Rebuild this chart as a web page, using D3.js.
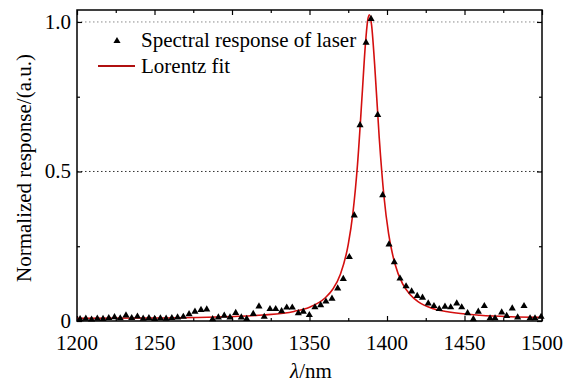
<!DOCTYPE html>
<html>
<head>
<meta charset="utf-8">
<script src="https://cdn.jsdelivr.net/npm/d3@7"></script>
<style>
  html, body { margin: 0; padding: 0; background: #ffffff; }
  text { fill: #000; }
</style>
</head>
<body>
<div id="chart"></div>
<script>
// measured spectral response (triangles)
var waveNm = [
  1202, 1205.7, 1209.4, 1213.1, 1216.8, 1220.5, 1224.2, 1227.9, 1231.6, 1235.3,
  1239, 1242.7, 1246.4, 1250.1, 1253.8, 1257.5, 1261.2, 1264.9, 1268.6, 1272.3,
  1276.1, 1280, 1283.7, 1287.5, 1291.2, 1295, 1298.7, 1302.4, 1306, 1309.5,
  1313.7, 1317.4, 1320.8, 1324.5, 1328.2, 1332, 1335.3, 1338.9, 1342.8, 1346,
  1349.9, 1353.5, 1357.2, 1360.6, 1364.5, 1368.2, 1371.8, 1375.7, 1378.9, 1382.6,
  1386.5, 1389.7, 1394, 1397.2, 1401.3, 1404.7, 1408.4, 1412.3, 1415.9, 1419.5,
  1422.9, 1426.6, 1430.3, 1433.7, 1437.4, 1441.1, 1445, 1448.2, 1452, 1455.7,
  1458.9, 1462.8, 1466.5, 1469.7, 1474, 1477.2, 1480.8, 1484.3, 1488.4, 1492.3,
  1495.5, 1499.4
];
var response = [
  0.006, 0.008, 0.005, 0.008, 0.007, 0.010, 0.013, 0.009, 0.019, 0.010,
  0.015, 0.008, 0.010, 0.007, 0.009, 0.008, 0.010, 0.012, 0.014, 0.023,
  0.031, 0.037, 0.039, 0.006, 0.012, 0.018, 0.012, 0.027, 0.012, 0.007,
  0.024, 0.049, 0.014, 0.040, 0.040, 0.033, 0.045, 0.045, 0.026, 0.031,
  0.020, 0.046, 0.053, 0.065, 0.075, 0.109, 0.141, 0.214, 0.353, 0.655,
  0.931, 1.010, 0.689, 0.421, 0.256, 0.197, 0.142, 0.116, 0.099, 0.084,
  0.078, 0.059, 0.050, 0.040, 0.048, 0.046, 0.059, 0.046, 0.026, 0.006,
  0.031, 0.050, 0.009, 0.009, 0.029, 0.017, 0.042, 0.012, 0.050, 0.009,
  0.009, 0.014
];

// Lorentz fit curve
var fitNm = [
  1200, 1250, 1300, 1320, 1340, 1350, 1360, 1365, 1370, 1375,
  1378, 1381, 1384, 1386, 1387.5, 1388.6, 1390, 1392, 1395, 1398,
  1401, 1405, 1410, 1415, 1420, 1430, 1440, 1460, 1480, 1500
];
var fitVal = [
  0.009, 0.010, 0.015, 0.020, 0.032, 0.046, 0.077, 0.106, 0.157, 0.256,
  0.361, 0.525, 0.759, 0.921, 1.004, 1.024, 0.992, 0.860, 0.612, 0.419,
  0.293, 0.193, 0.125, 0.088, 0.065, 0.041, 0.030, 0.019, 0.014, 0.012
];

var xTicks      = [1200, 1250, 1300, 1350, 1400, 1450, 1500];
var xMinorTicks = [1225, 1275, 1325, 1375, 1425, 1475];
var yTicks      = [0, 0.5, 1.0];
var yTickLabels = ['0', '0.5', '1.0'];
var yMinorTicks = [0.25, 0.75];

var legendLabels = ['Spectral response of laser', 'Lorentz fit'];

var W = 569, H = 385;
var FIT_COLOR = '#d40f0f';
var FONT = 21;
var SERIF = "'Liberation Serif', 'DejaVu Serif', 'Noto Serif', serif";

var svg = d3.select('#chart')
  .append('svg')
  .attr('width', W)
  .attr('height', H);

function label(sel) {
  return sel.style('font-family', SERIF).style('font-size', FONT + 'px');
}

var x = d3.scaleLinear().domain([1200, 1500]).range([77, 542]);
var y = d3.scaleLinear().domain([0, 1.04]).range([321, 10]);

// dotted guide lines at 0.5 and 1.0
svg.append('g')
  .selectAll('line')
  .data(yTicks.filter(function (d) { return d > 0; }))
  .join('line')
  .attr('x1', x(1200))
  .attr('x2', x(1500))
  .attr('y1', function (d) { return y(d); })
  .attr('y2', function (d) { return y(d); })
  .attr('stroke', function (d) { return d === 1 ? '#8a8a8a' : '#333'; })
  .attr('stroke-width', 1)
  .attr('stroke-dasharray', '1.5,2.5');

// ticks on all four sides, pointing inward
function tickGroup(scale, orient, vals, len, pos) {
  var ax = orient(scale).tickValues(vals).tickSize(len).tickFormat('');
  var g = svg.append('g').attr('transform', pos).call(ax);
  g.select('.domain').remove();
  g.selectAll('.tick line').attr('stroke', '#000').attr('stroke-width', 1.2);
  return g;
}
tickGroup(x, d3.axisTop, xTicks, 5, 'translate(0,' + y(0) + ')');
tickGroup(x, d3.axisTop, xMinorTicks, 3, 'translate(0,' + y(0) + ')');
tickGroup(x, d3.axisBottom, xTicks, 5, 'translate(0,' + y(1.04) + ')');
tickGroup(x, d3.axisBottom, xMinorTicks, 3, 'translate(0,' + y(1.04) + ')');
tickGroup(y, d3.axisRight, yTicks, 5, 'translate(' + x(1200) + ',0)');
tickGroup(y, d3.axisRight, yMinorTicks, 3, 'translate(' + x(1200) + ',0)');
tickGroup(y, d3.axisLeft, yTicks, 5, 'translate(' + x(1500) + ',0)');
tickGroup(y, d3.axisLeft, yMinorTicks, 3, 'translate(' + x(1500) + ',0)');

// tick labels
svg.append('g')
  .selectAll('text')
  .data(xTicks)
  .join('text')
  .attr('x', function (d) { return x(d); })
  .attr('y', 350)
  .attr('text-anchor', 'middle')
  .call(label)
  .text(function (d) { return d; });

svg.append('g')
  .selectAll('text')
  .data(yTicks)
  .join('text')
  .attr('x', 71)
  .attr('y', function (d) { return y(d); })
  .attr('dy', '0.33em')
  .attr('text-anchor', 'end')
  .call(label)
  .text(function (d, i) { return yTickLabels[i]; });

// fit curve
svg.append('clipPath').attr('id', 'plot-clip')
  .append('rect')
  .attr('x', x(1200)).attr('y', y(1.04))
  .attr('width', x(1500) - x(1200)).attr('height', y(0) - y(1.04));

var fitData = fitNm.map(function (d, i) { return [d, fitVal[i]]; });
var line = d3.line()
  .x(function (d) { return x(d[0]); })
  .y(function (d) { return y(d[1]); })
  .curve(d3.curveMonotoneX);

svg.append('path')
  .datum(fitData)
  .attr('clip-path', 'url(#plot-clip)')
  .attr('d', line)
  .attr('fill', 'none')
  .attr('stroke', FIT_COLOR)
  .attr('stroke-width', 1.6);

// measured points
var tri = d3.symbol().type(d3.symbolTriangle).size(22);
svg.append('g')
  .selectAll('path')
  .data(waveNm.map(function (d, i) { return [d, response[i]]; }))
  .join('path')
  .attr('d', tri)
  .attr('transform', function (d) { return 'translate(' + x(d[0]) + ',' + y(d[1]) + ')'; })
  .attr('fill', '#000');

// frame
svg.append('rect')
  .attr('x', x(1200))
  .attr('y', y(1.04))
  .attr('width', x(1500) - x(1200))
  .attr('height', y(0) - y(1.04))
  .attr('fill', 'none')
  .attr('stroke', '#000')
  .attr('stroke-width', 1.5);

// legend
var lg = svg.append('g');
lg.append('path')
  .attr('d', tri)
  .attr('transform', 'translate(117,41)')
  .attr('fill', '#000');
lg.append('line')
  .attr('x1', 98).attr('x2', 135)
  .attr('y1', 66).attr('y2', 66)
  .attr('stroke', '#b01010')
  .attr('stroke-width', 1.8);
lg.selectAll('text')
  .data(legendLabels)
  .join('text')
  .attr('x', 141)
  .attr('y', function (d, i) { return 47 + i * 26; })
  .call(label)
  .text(function (d) { return d; });

// axis titles
svg.append('text')
  .attr('transform', 'translate(31,168) rotate(-90)')
  .attr('text-anchor', 'middle')
  .call(label)
  .text('Normalized response/(a.u.)');

var xt = svg.append('text')
  .attr('x', 311)
  .attr('y', 378)
  .attr('text-anchor', 'middle')
  .call(label);
xt.append('tspan').style('font-style', 'italic').text('λ');
xt.append('tspan').text('/nm');
</script>
</body>
</html>
